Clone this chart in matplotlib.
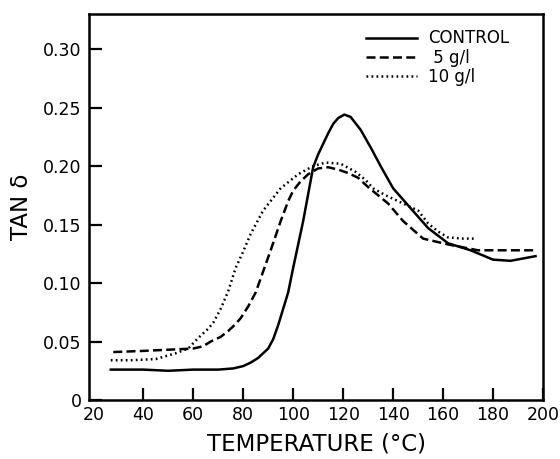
import matplotlib
matplotlib.use("Agg")
import matplotlib.pyplot as plt

# tan delta vs temperature
control_t = [27, 40, 50, 60, 70, 76, 80, 83, 86, 88, 90, 92, 94, 96, 98, 100, 102, 104,
             106, 108, 110, 112, 114, 116, 118, 120.5, 123, 127, 131, 135, 140, 147,
             154, 162, 171, 180, 187, 192, 197]
control_v = [0.026, 0.026, 0.025, 0.026, 0.026, 0.027, 0.029, 0.032, 0.036, 0.040, 0.044,
             0.052, 0.064, 0.078, 0.092, 0.113, 0.133, 0.153, 0.176, 0.199, 0.210, 0.219,
             0.228, 0.236, 0.241, 0.244, 0.242, 0.231, 0.216, 0.200, 0.181, 0.164, 0.147,
             0.134, 0.128, 0.120, 0.119, 0.121, 0.123]

g5_t = [28, 40, 50, 60, 64, 67, 71, 74, 77, 79, 82, 85, 88, 91, 95, 98, 100, 103, 106,
        110, 114, 118, 122, 126, 130, 134, 138, 144, 152, 162, 174, 185, 197]
g5_v = [0.041, 0.042, 0.043, 0.044, 0.046, 0.050, 0.054, 0.059, 0.065, 0.070, 0.080,
        0.092, 0.110, 0.128, 0.153, 0.170, 0.179, 0.187, 0.193, 0.198, 0.199, 0.197,
        0.194, 0.190, 0.182, 0.175, 0.168, 0.153, 0.138, 0.133, 0.128, 0.128, 0.128]

g10_t = [27, 35, 45, 53, 58, 62, 64, 66, 68, 71, 74, 77, 80, 83, 88, 95, 102, 108, 113,
         119, 125, 129, 132, 137, 144, 150, 154, 158, 162, 168, 173]
g10_v = [0.034, 0.034, 0.035, 0.040, 0.044, 0.053, 0.057, 0.061, 0.066, 0.078, 0.093,
         0.113, 0.127, 0.142, 0.162, 0.181, 0.193, 0.200, 0.203, 0.202, 0.195, 0.188,
         0.181, 0.175, 0.168, 0.162, 0.151, 0.144, 0.139, 0.138, 0.138]

x_ticks = [20, 40, 60, 80, 100, 120, 140, 160, 180, 200]
y_ticks = [0, 0.05, 0.10, 0.15, 0.20, 0.25, 0.30]
y_labels = ['0', '0.05', '0.10', '0.15', '0.20', '0.25', '0.30']

plt.rcParams['font.family'] = ['DejaVu Sans']

fig = plt.figure(figsize=(5.6, 4.59), dpi=100)
ax = fig.add_axes([0.159, 0.1285, 0.8107, 0.841])

ax.plot(control_t, control_v, color='black', lw=1.8, ls='-', label='CONTROL')
ax.plot(g5_t, g5_v, color='black', lw=1.8, ls=(0, (3.6, 1.7)), label=' 5 g/l')
ax.plot(g10_t, g10_v, color='black', lw=1.8, ls=(0, (0.7, 1.3)), label='10 g/l')

ax.set_xlim(18.3, 200)
ax.set_ylim(0, 0.33)
ax.set_xticks(x_ticks)
ax.set_yticks(y_ticks)
ax.set_yticklabels(y_labels)
# no tick mark drawn at 20 in the original, only the label
ax.xaxis.get_major_ticks()[0].tick1line.set_visible(False)

for s in ax.spines.values():
    s.set_linewidth(1.8)
ax.tick_params(direction='in', length=9, width=1.6, labelsize=12.5)
ax.tick_params(axis='y', pad=5.5)
ax.tick_params(axis='x', pad=4.5)

ax.set_xlabel('TEMPERATURE (°C)', fontsize=16.5, labelpad=6)
ax.set_ylabel('TAN δ', fontsize=16.5, labelpad=7)

ax.legend(loc='upper left', bbox_to_anchor=(0.609, 0.96), frameon=False, fontsize=12,
          handlelength=3.1, handletextpad=0.65, labelspacing=0.08, borderaxespad=0,
          borderpad=0)

fig.savefig('out.png', dpi=100)
